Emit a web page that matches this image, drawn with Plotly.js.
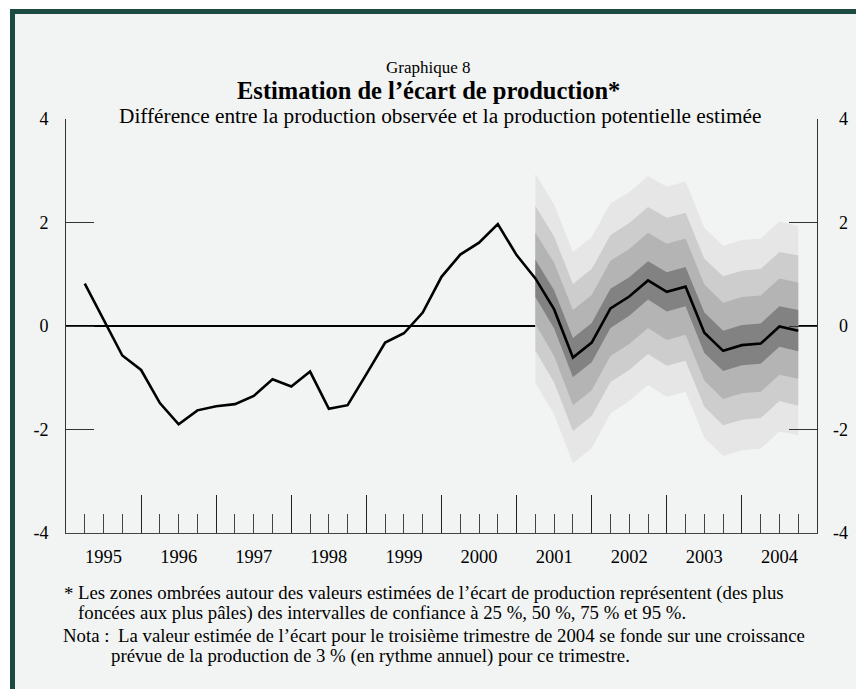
<!DOCTYPE html>
<html>
<head>
<meta charset="utf-8">
<script src="https://cdn.plot.ly/plotly-3.0.1.min.js"></script>
<style>
  html, body { margin: 0; padding: 0; background: #ffffff; }
  #frame { position: absolute; left: 10px; top: 9px; width: 846px; height: 680px;
           background: #f2f4f3; border-left: 5px solid #1c4a41; border-top: 5px solid #1c4a41; box-sizing: border-box; }
  #chart { position: absolute; left: 0; top: 0; width: 856px; height: 689px; }
</style>
</head>
<body>
<div id="frame"></div>
<div id="chart"></div>
<script>
// ---- Data ----
const quarters = [
  '1995T1','1995T2','1995T3','1995T4','1996T1','1996T2','1996T3','1996T4',
  '1997T1','1997T2','1997T3','1997T4','1998T1','1998T2','1998T3','1998T4',
  '1999T1','1999T2','1999T3','1999T4','2000T1','2000T2','2000T3','2000T4',
  '2001T1','2001T2','2001T3','2001T4','2002T1','2002T2','2002T3','2002T4',
  '2003T1','2003T2','2003T3','2003T4','2004T1','2004T2','2004T3'
];
const ecart = [
   0.82,  0.14, -0.57, -0.85, -1.49, -1.90, -1.63, -1.55,
  -1.51, -1.35, -1.03, -1.17, -0.88, -1.60, -1.53, -0.93,
  -0.32, -0.14,  0.26,  0.95,  1.38,  1.61,  1.97,  1.37,
   0.92,  0.32, -0.61, -0.32,  0.34,  0.57,  0.88,  0.66,
   0.76, -0.13, -0.48, -0.37, -0.34, -0.01, -0.09
];
// fan chart starts at this quarter
const fanStart = '2001T1';
// half-widths of the confidence bands (25 %, 50 %, 75 %, 95 %), per quarter from 2001T1
const hw25 = [0.36, 0.37, 0.38, 0.38, 0.38, 0.37, 0.37, 0.38, 0.38, 0.39, 0.39, 0.39, 0.39, 0.39, 0.40];
const hw50 = [0.88, 0.90, 0.92, 0.92, 0.92, 0.92, 0.92, 0.93, 0.93, 0.93, 0.93, 0.93, 0.93, 0.93, 0.93];
const hw75 = [1.40, 1.41, 1.42, 1.42, 1.42, 1.42, 1.42, 1.43, 1.43, 1.43, 1.44, 1.44, 1.44, 1.44, 1.45];
const hw95 = [2.02, 2.03, 2.04, 2.04, 2.03, 2.02, 2.02, 2.03, 2.03, 2.03, 2.03, 2.03, 2.03, 2.03, 2.02];
const yearLabels = ['1995','1996','1997','1998','1999','2000','2001','2002','2003','2004'];
const yTickVals = [-4, -2, 0, 2, 4];
const yTickText = ['-4', '-2', '0', '2', '4'];

// ---- Styles ----
const FONT = '"Liberation Serif", "Times New Roman", serif';
const bandColors = ['#e6e6e6', '#cdcdcd', '#b4b4b4', '#828282']; // 95,75,50,25

// quarter label -> axis position (end of quarter)
function qpos(q) { return parseInt(q.slice(0,4)) + parseInt(q.slice(5)) / 4; }
const xq = quarters.map(qpos);
const i0 = quarters.indexOf(fanStart);
const fx = xq.slice(i0);
const fc = ecart.slice(i0);

function band(hw, color) {
  const up = fc.map((v, i) => v + hw[i]);
  const lo = fc.map((v, i) => v - hw[i]);
  return {
    type: 'scatter', mode: 'lines', xaxis: 'x', yaxis: 'y',
    x: fx.concat(fx.slice().reverse()),
    y: up.concat(lo.slice().reverse()),
    fill: 'toself', fillcolor: color, line: {width: 0, color: color},
    hoverinfo: 'skip', showlegend: false
  };
}

const traces = [
  band(hw95, bandColors[0]),
  band(hw75, bandColors[1]),
  band(hw50, bandColors[2]),
  band(hw25, bandColors[3]),
  {
    type: 'scatter', mode: 'lines', xaxis: 'x2', yaxis: 'y',
    x: xq, y: ecart, line: {color: '#000000', width: 2.6},
    showlegend: false
  }
];

// pixel helpers for text placement (plot area: x 66..817, y 119..533)
const L = 66, R = 817, T = 119, B = 533;
const px = x => (x - L) / (R - L);
const py = y => (B - y) / (B - T);

const annotations = [];
function txt(text, x, y, size, anchor) {
  annotations.push({
    text: text, xref: 'paper', yref: 'paper', x: px(x), y: py(y),
    xanchor: anchor, yanchor: 'middle', showarrow: false,
    font: {family: FONT, size: size, color: '#000'}
  });
}
const FN = 18.8;
txt('Graphique 8', 428, 67, 17, 'center');
txt('<b>Estimation de l’écart de production*</b>', 428, 91, 24.5, 'center');
txt('Différence entre la production observée et la production potentielle estimée', 440, 116, 21.3, 'center');
txt('*', 62, 593, FN, 'left');
txt('Les zones ombrées autour des valeurs estimées de l’écart de production représentent (des plus', 76, 593, FN, 'left');
txt('foncées aux plus pâles) des intervalles de confiance à 25 %, 50 %, 75 % et 95 %.', 76, 613, FN, 'left');
txt('Nota :', 61, 635, FN, 'left');
txt('La valeur estimée de l’écart pour le troisième trimestre de 2004 se fonde sur une croissance', 116, 635, FN, 'left');
txt('prévue de la production de 3 % (en rythme annuel) pour ce trimestre.', 109, 656, FN, 'left');
// right-hand value labels, right-aligned
yTickVals.forEach((v, i) => {
  annotations.push({
    text: yTickText[i], xref: 'paper', yref: 'y', x: 1, y: v,
    xanchor: 'right', yanchor: 'middle', xshift: 33, showarrow: false,
    font: {family: FONT, size: 18, color: '#000'}
  });
});

const layout = {
  width: 856, height: 689,
  margin: {l: L, r: 856 - R, t: T, b: 689 - B, pad: 0},
  paper_bgcolor: 'rgba(0,0,0,0)', plot_bgcolor: 'rgba(0,0,0,0)',
  showlegend: false,
  font: {family: FONT, size: 18, color: '#000'},
  xaxis: {
    range: [1995, 2005], fixedrange: true,
    showline: true, linecolor: '#444', linewidth: 1,
    showgrid: false, zeroline: false,
    ticks: 'inside', tick0: 1995, dtick: 1, ticklen: 38, tickcolor: '#222', tickwidth: 1,
    showticklabels: false,
    minor: {ticks: 'inside', tick0: 1995, dtick: 0.25, ticklen: 19, tickcolor: '#444', tickwidth: 1, showgrid: false}
  },
  xaxis2: {
    range: [1995, 2005], fixedrange: true, overlaying: 'x', anchor: 'y', side: 'bottom',
    showline: false, showgrid: false, zeroline: false, ticks: '',
    tickvals: yearLabels.map(y => parseInt(y) + 0.5), ticktext: yearLabels,
    tickfont: {family: FONT, size: 18.5, color: '#000'}, ticklabelstandoff: 10
  },
  yaxis: {
    range: [-4, 4], fixedrange: true,
    showline: true, linecolor: '#333', linewidth: 1, mirror: 'ticks',
    showgrid: false,
    zeroline: true, zerolinecolor: '#000', zerolinewidth: 2.2,
    ticks: 'inside', ticklen: 28, tickcolor: '#333', tickwidth: 1,
    tickvals: yTickVals, ticktext: yTickText,
    tickfont: {family: FONT, size: 18, color: '#000'}, ticklabelstandoff: 13
  },
  annotations: annotations
};

Plotly.newPlot('chart', traces, layout, {displayModeBar: false, staticPlot: true});
</script>
</body>
</html>
